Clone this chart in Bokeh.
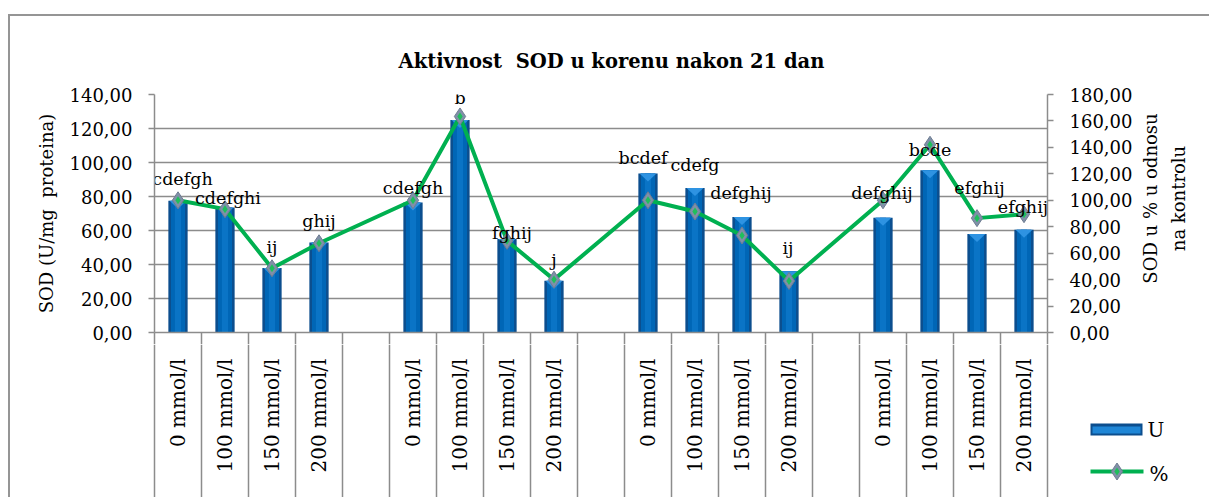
import math
from bokeh.plotting import figure
from bokeh.layouts import column, row
from bokeh.models import (Range1d, LinearAxis, FixedTicker, ColumnDataSource, Grid,
                          Title, CustomJSTickFormatter)
from bokeh.core.properties import value
from bokeh.embed import file_html
from bokeh.resources import INLINE

# ---------------- data ----------------
title_text = "Aktivnost\u00a0 SOD u korenu nakon 21 dan"
left_title = "SOD (U/mg\u00a0 proteina)"
right_title_lines = ["SOD u % u odnosu", "na kontrolu"]
concentrations = ["0 mmol/l", "100 mmol/l", "150 mmol/l", "200 mmol/l"]
n_groups = 4
u_values = [77.5, 73.5, 38.0, 53.0,
            76.5, 125.0, 55.0, 30.5,
            93.5, 85.0, 68.0, 36.0,
            67.5, 95.5, 58.0, 60.5]
pct_values = [100.0, 93.3, 48.6, 67.5,
              100.0, 163.4, 69.3, 40.0,
              100.0, 91.5, 73.4, 39.0,
              100.0, 142.0, 86.5, 89.5]
letters = ["cdefgh", "cdefghi", "ij", "ghij",
           "cdefgh", "b", "fghij", "j",
           "bcdef", "cdefg", "defghij", "ij",
           "defghij", "bcde", "efghij", "efghij"]
legend_labels = ["U", "%"]
left_ticks = [0, 20, 40, 60, 80, 100, 120, 140]
right_ticks = [0, 20, 40, 60, 80, 100, 120, 140, 160, 180]

# label placement (pixels, relative to the % marker)
label_dx = [4.5, 3, 0, 0, 0, 0, 5, 0, -5, 0, -1, -1, -1, 0, 2.5, -1]
label_dy = [21, 11, 21, 22, 12, 18, 8, 20, 42, 47, 42, 33, 7, -5, 30, 7]

# ---------------- layout (pixels, canvas origin at page (10, 16)) ----------------
FONT = "DejaVu Serif"
GRAY = "#8c8c8c"
BORDER = "#959595"
BLUE_DARK, BLUE_MID, BLUE_HI, BLUE_CAP = "#0c4e8e", "#0066b6", "#0a74c6", "#2e93e2"
GREEN = "#00b050"
FRAME_L, FRAME_W, FRAME_T, FRAME_H = 144, 893, 78, 238
MAIN_RB, MAIN_BB = 93, 12
MAIN_W = FRAME_L + FRAME_W + MAIN_RB
MAIN_H = FRAME_T + FRAME_H + MAIN_BB
TOTAL_W, TOTAL_H = 1199, 481
RT_W = TOTAL_W - MAIN_W
BOT_H = TOTAL_H - MAIN_H
Y_MAX_LEFT = 140

slots_per_group = len(concentrations) + 1
n_slots = n_groups * slots_per_group - 1
X_MAX = 2 * n_slots
xs = [2 * (g * slots_per_group + j) + 1 for g in range(n_groups) for j in range(len(concentrations))]
cat_labels = [concentrations[j] for g in range(n_groups) for j in range(len(concentrations))]
boundaries = list(range(0, X_MAX + 1, 2))

src = ColumnDataSource(dict(
    x=xs, u=u_values, pct=pct_values, letter=letters,
    dx=label_dx, dy=[-d for d in label_dy],
))

# bevel cap at the top of each bar (8 px deep)
cap_half = 0.36
cap_depth = 8 * Y_MAX_LEFT / FRAME_H
cap_xs = [[x - cap_half, x + cap_half, x] for x in xs]
cap_ys = [[u, u, u - cap_depth] for u in u_values]

comma_fmt = CustomJSTickFormatter(code="return tick.toFixed(2).replace('.', ',');")

# ================= main plot =================
p = figure(width=MAIN_W, height=MAIN_H,
           x_range=Range1d(0, X_MAX), y_range=Range1d(0, Y_MAX_LEFT),
           x_axis_type=None, y_axis_type=None,
           output_backend="svg", toolbar_location=None,
           min_border_left=FRAME_L, min_border_right=MAIN_RB,
           min_border_top=FRAME_T, min_border_bottom=MAIN_BB)
p.extra_y_ranges = {"pct": Range1d(0, 180)}
p.outline_line_color = None
p.background_fill_color = "white"
p.border_fill_color = "white"

p.title = Title(text=title_text, align="left", offset=244, standoff=43,
                text_font=FONT, text_font_size="19.5px", text_font_style="bold",
                text_color="black")

laxis = LinearAxis(ticker=FixedTicker(ticks=left_ticks), formatter=comma_fmt,
                   axis_label=left_title)
raxis = LinearAxis(y_range_name="pct", ticker=FixedTicker(ticks=right_ticks),
                   formatter=comma_fmt)
for ax in (laxis, raxis):
    ax.axis_line_color = GRAY
    ax.axis_line_width = 1.5
    ax.major_tick_line_color = GRAY
    ax.major_tick_line_width = 1.5
    ax.major_tick_out = 6
    ax.major_tick_in = 0
    ax.minor_tick_line_color = None
    ax.major_label_standoff = 16
    ax.major_label_text_font = FONT
    ax.major_label_text_font_size = "18px"
    ax.major_label_text_color = "black"
    ax.axis_label_text_font = FONT
    ax.axis_label_text_font_size = "18px"
    ax.axis_label_text_font_style = "normal"
    ax.axis_label_text_color = "black"
    ax.axis_label_standoff = 10
p.add_layout(laxis, "left")
p.add_layout(raxis, "right")

xaxis = LinearAxis(ticker=FixedTicker(ticks=[], minor_ticks=boundaries),
                   major_tick_out=0, major_tick_in=0, major_tick_line_color=None,
                   minor_tick_out=MAIN_BB, minor_tick_in=0,
                   minor_tick_line_color=GRAY, minor_tick_line_width=1.5,
                   axis_line_color=GRAY, axis_line_width=1.5,
                   major_label_standoff=0, major_label_text_font_size="0px")
p.add_layout(xaxis, "below")

p.add_layout(Grid(dimension=1, ticker=laxis.ticker, grid_line_color=GRAY, grid_line_width=1.5))

# bars (layered for a cylinder-like shading)
p.vbar(x="x", top="u", bottom=0, width=0.82, source=src, fill_color=BLUE_DARK, line_color=None)
p.vbar(x="x", top="u", bottom=0, width=0.6, source=src, fill_color=BLUE_MID, line_color=None)
p.vbar(x="x", top="u", bottom=0, width=0.26, source=src, fill_color=BLUE_HI, line_color=None)
p.patches(xs=cap_xs, ys=cap_ys, fill_color=BLUE_CAP, line_color=None)

# % line with markers
p.line(x="x", y="pct", source=src, y_range_name="pct", line_color=GREEN, line_width=4)
p.scatter(x="x", y="pct", source=src, y_range_name="pct", marker="diamond",
          size=17, fill_color="#8090a8", line_color="#6f7d92", line_width=1)
p.scatter(x="x", y="pct", source=src, y_range_name="pct", marker="diamond",
          size=8, fill_color="#1fbf5c", line_color=None)

# data labels
p.text(x="x", y="pct", text="letter", source=src, y_range_name="pct",
       x_offset="dx", y_offset="dy", text_align="center", text_baseline="middle",
       text_font=value(FONT), text_font_size="17.5px", text_color="black")

# ================= right title strip =================
prt = figure(width=RT_W, height=MAIN_H, x_range=Range1d(0, RT_W), y_range=Range1d(0, FRAME_H),
             x_axis_type=None, y_axis_type=None, output_backend="svg", toolbar_location=None,
             min_border_left=0, min_border_right=0,
             min_border_top=FRAME_T, min_border_bottom=MAIN_BB)
prt.outline_line_color = None
prt.grid.visible = False
prt.text(x=[10, 38], y=[134, 134], text=right_title_lines, angle=math.pi / 2,
         text_align="center", text_baseline="middle",
         text_font=value(FONT), text_font_size="18px", text_color="black")

# ================= category axis strip + legend =================
u_per_px = X_MAX / FRAME_W
pb = figure(width=TOTAL_W, height=BOT_H, x_range=Range1d(0, TOTAL_W), y_range=Range1d(0, BOT_H),
            x_axis_type=None, y_axis_type=None, output_backend="svg", toolbar_location=None,
            min_border=0)
pb.extra_x_ranges = {"cat": Range1d(-FRAME_L * u_per_px, (TOTAL_W - FRAME_L) * u_per_px)}
pb.outline_line_color = None
pb.grid.visible = False
pb.segment(x0=boundaries, x1=boundaries, y0=[0] * len(boundaries), y1=[BOT_H] * len(boundaries),
           x_range_name="cat", line_color=GRAY, line_width=1.5)
pb.text(x=xs, y=[BOT_H - 14] * len(xs), text=cat_labels, x_range_name="cat",
        angle=math.pi / 2, text_align="right", text_baseline="middle",
        text_font=value(FONT), text_font_size="20px", text_color="black")

# legend (drawn in pixel coordinates of this strip)
pb.quad(left=[1080], right=[1132], bottom=[62], top=[74], fill_color=BLUE_DARK, line_color=None)
pb.quad(left=[1082], right=[1130], bottom=[64], top=[71], fill_color="#1f86d6", line_color=None)
pb.segment(x0=[1080], x1=[1133], y0=[26], y1=[26], line_color=GREEN, line_width=4)
pb.scatter(x=[1106.5], y=[26], marker="diamond", size=17, fill_color="#8090a8",
           line_color="#6f7d92", line_width=1)
pb.scatter(x=[1106.5], y=[26], marker="diamond", size=8, fill_color="#1fbf5c", line_color=None)
pb.text(x=[1137, 1139], y=[68, 24], text=legend_labels, text_align="left", text_baseline="middle",
        text_font=value(FONT), text_font_size="20px", text_color="black")

layout = column(row(p, prt), pb,
                styles={"margin-left": "8px", "margin-top": "14px",
                        "border-left": f"2px solid {BORDER}", "border-top": f"2px solid {BORDER}"})
open("out.html", "w").write(file_html(layout, INLINE))
